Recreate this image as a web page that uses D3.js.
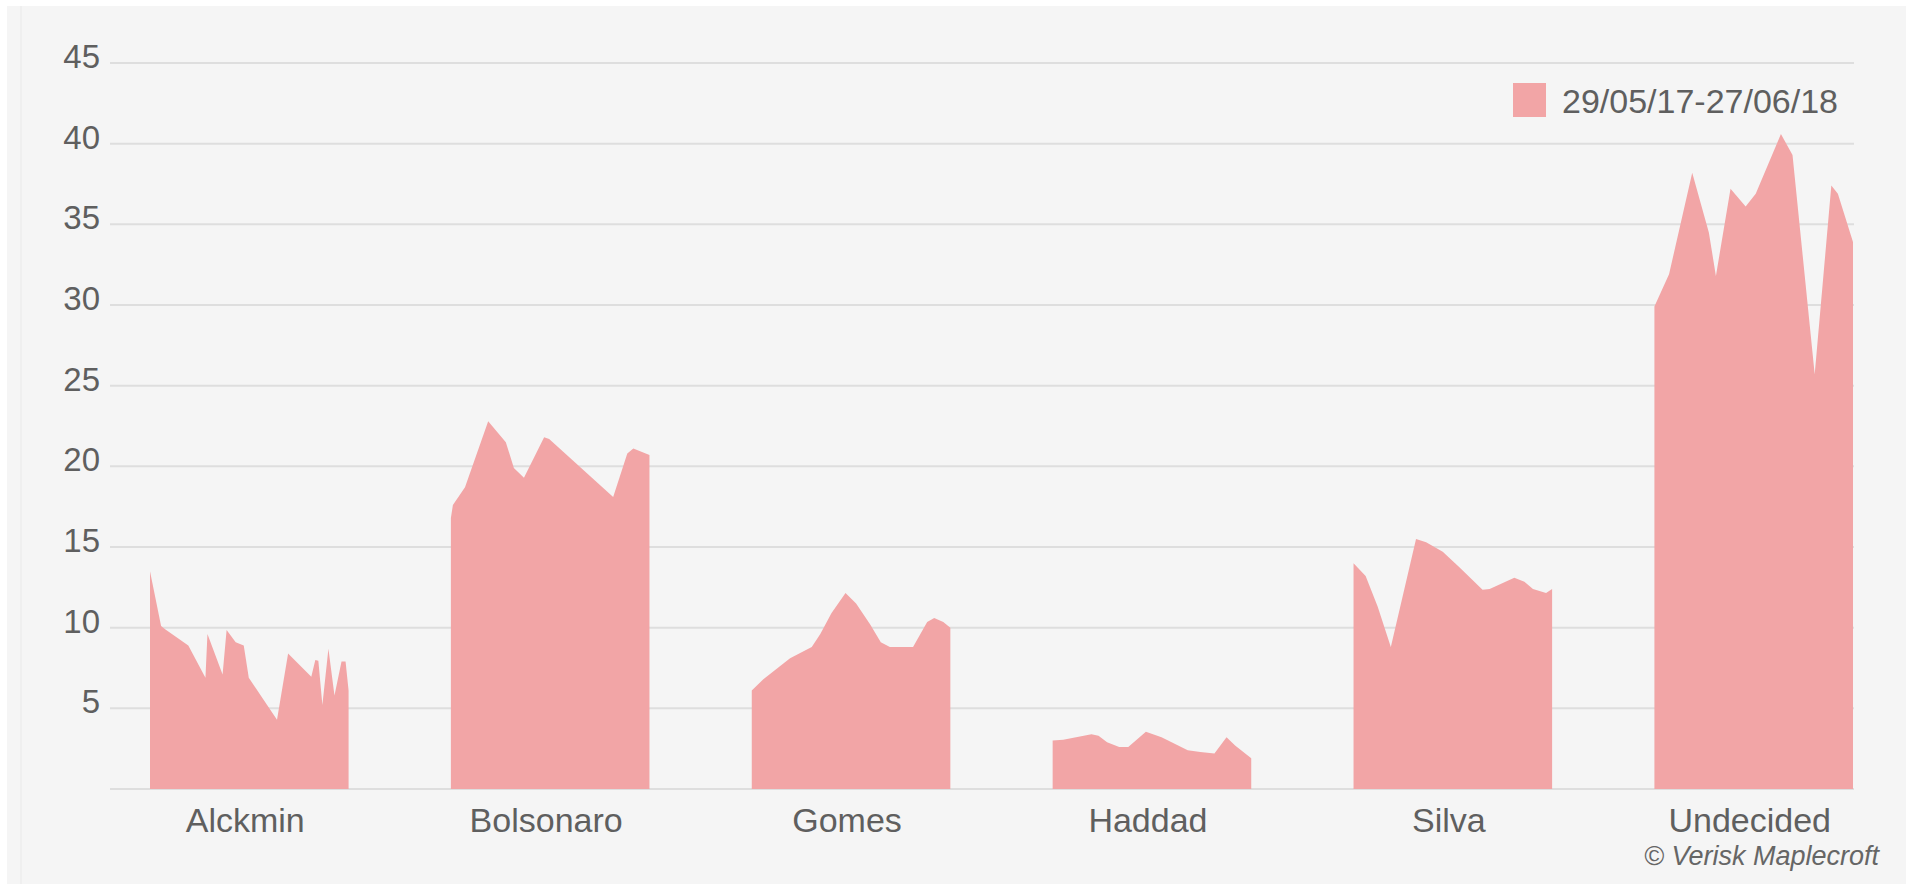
<!DOCTYPE html>
<html>
<head>
<meta charset="utf-8">
<script src="https://cdn.jsdelivr.net/npm/d3@7"></script>
<style>
  html, body { margin: 0; padding: 0; background: #fff; }
  svg { display: block; font-family: 'Liberation Sans', Arial, sans-serif; }
</style>
</head>
<body>
<div class="chartPlaceholder"></div>
<script>
const WIDTH = 1913;
const HEIGHT = 884;
const FILL = '#f2a5a6';
const TEXT = '#5f5f5f';

// candidates, in axis order
const categories = ['Alckmin', 'Bolsonaro', 'Gomes', 'Haddad', 'Silva', 'Undecided'];
const legendLabel = '29/05/17-27/06/18';
const totalDays = 394; // 29/05/17 -> 27/06/18
const yTicks = [5, 10, 15, 20, 25, 30, 35, 40, 45];

// [day since 29/05/17, % of vote]
const alckmin = [[0, 13.5], [22, 10.1], [30, 9.9], [76, 8.9], [110, 6.9], [114, 9.6], [144, 7.1],
    [152, 9.85], [170, 9.1], [186, 8.9], [196, 6.9], [252, 4.3], [274, 8.4], [320, 6.95], [328, 8.0],
    [334, 7.95], [342, 5.2], [354, 8.7], [366, 5.8], [380, 7.9], [388, 7.9], [394, 6.1]];
const bolsonaro = [[0, 16.8], [4, 17.6], [28, 18.7], [74, 22.8], [109, 21.5], [125, 19.9], [145, 19.3],
    [185, 21.8], [195, 21.7], [322, 18.1], [350, 20.8], [362, 21.1], [394, 20.7]];
const gomes = [[0, 6.1], [23, 6.8], [76, 8.1], [119, 8.8], [136, 9.6], [158, 10.9], [186, 12.15],
    [207, 11.5], [235, 10.2], [256, 9.1], [274, 8.8], [320, 8.8], [348, 10.35], [362, 10.6],
    [380, 10.35], [394, 10.0]];
const haddad = [[0, 3.0], [21, 3.05], [77, 3.4], [91, 3.3], [108, 2.9], [132, 2.6], [150, 2.6],
    [185, 3.55], [216, 3.2], [268, 2.4], [293, 2.3], [321, 2.2], [345, 3.2], [362, 2.7], [394, 1.9]];
const silva = [[0, 14.0], [24, 13.2], [48, 11.3], [74, 8.8], [124, 15.5], [144, 15.3], [177, 14.7],
    [210, 13.75], [256, 12.35], [270, 12.4], [319, 13.1], [339, 12.85], [356, 12.4], [382, 12.15],
    [394, 12.4]];
const undecided = [[0, 29.9], [29, 31.9], [75, 38.2], [108, 34.5], [122, 31.8], [151, 37.2],
    [181, 36.1], [201, 36.9], [251, 40.6], [274, 39.3], [318, 25.7], [351, 37.4], [364, 36.9],
    [394, 33.9]];

const series = [alckmin, bolsonaro, gomes, haddad, silva, undecided];

let svg = d3
    .select('.chartPlaceholder')
    .append('svg')
    .attr('width', WIDTH)
    .attr('height', HEIGHT);

// panel background
svg.append('rect')
    .attr('x', 7).attr('y', 6)
    .attr('width', 1899).attr('height', HEIGHT - 6)
    .attr('fill', '#f5f5f5');
svg.append('line')
    .attr('x1', 21).attr('x2', 21).attr('y1', 6).attr('y2', HEIGHT)
    .attr('stroke', '#ececec').attr('stroke-width', 1.5);

// scales
let yScale = d3.scaleLinear().domain([0, 45]).range([789, 63]);
let xScale = d3.scaleBand()
    .domain(categories)
    .range([150, 1853])
    .paddingInner(0.34)
    .paddingOuter(0);

// gridlines
svg.append('g')
    .selectAll('line')
    .data([0].concat(yTicks))
    .enter()
    .append('line')
    .attr('x1', 110)
    .attr('x2', 1854)
    .attr('y1', d => yScale(d))
    .attr('y2', d => yScale(d))
    .attr('stroke', '#dedede')
    .attr('stroke-width', 2);

// y labels
svg.append('g')
    .selectAll('text')
    .data(yTicks)
    .enter()
    .append('text')
    .attr('x', 100)
    .attr('y', d => yScale(d) + 5)
    .attr('text-anchor', 'end')
    .attr('fill', TEXT)
    .style('font-size', '33px')
    .text(d => d);

// areas, one per candidate
series.forEach((data, i) => {
    let cat = categories[i];
    let inner = d3.scaleLinear()
        .domain([0, totalDays])
        .range([xScale(cat), xScale(cat) + xScale.bandwidth()]);
    let area = d3.area()
        .x(d => inner(d[0]))
        .y0(yScale(0))
        .y1(d => yScale(d[1]));
    svg.append('path')
        .datum(data)
        .attr('d', area)
        .attr('fill', FILL);
});

// category labels
svg.append('g')
    .selectAll('text')
    .data(categories)
    .enter()
    .append('text')
    .attr('x', d => xScale(d) + xScale.bandwidth() / 2 - 4)
    .attr('y', 832)
    .attr('text-anchor', 'middle')
    .attr('fill', TEXT)
    .style('font-size', '34px')
    .text(d => d);

// legend
svg.append('rect')
    .attr('x', 1513).attr('y', 83)
    .attr('width', 33).attr('height', 34)
    .attr('fill', FILL);
svg.append('text')
    .attr('x', 1562)
    .attr('y', 113)
    .attr('fill', TEXT)
    .style('font-size', '34px')
    .text(legendLabel);

// credit
svg.append('text')
    .attr('x', 1879)
    .attr('y', 865)
    .attr('text-anchor', 'end')
    .attr('fill', '#666')
    .style('font-size', '27px')
    .style('font-style', 'italic')
    .text('\u00a9 Verisk Maplecroft');
</script>
</body>
</html>
